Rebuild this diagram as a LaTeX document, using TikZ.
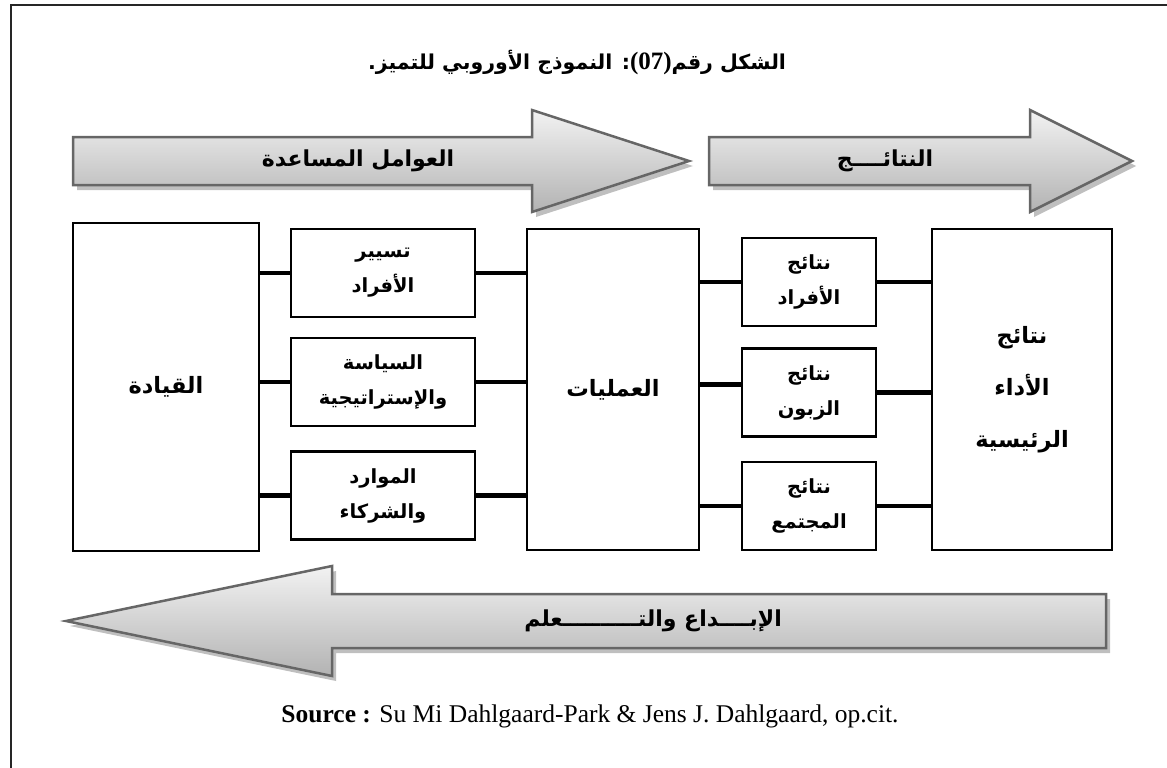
\documentclass[tikz,border=0pt]{standalone}
\usepackage{fontspec}
\setmainfont{Liberation Serif}
\newfontfamily\arabicfont[Script=Arabic]{DejaVu Sans}
\TeXXeTstate=1

\begin{document}
\begin{tikzpicture}[x=1pt,y=-1pt,
  frame/.style={line width=2pt, draw=black!85},
  band/.style={draw=black!60, line width=2.5pt, line join=miter,
               top color=black!5, bottom color=black!30},
  bandshadow/.style={fill=black!25},
  bandtext/.style={font=\arabicfont\bfseries\fontsize{22}{26}\selectfont},
  bigbox/.style={draw, line width=2.4pt, inner sep=0pt, align=center,
                 font=\arabicfont\bfseries\fontsize{22.5}{52}\selectfont},
  smallbox/.style={draw, line width=2.4pt, inner sep=0pt, align=center,
                   minimum height=88pt,
                   font=\arabicfont\bfseries\fontsize{19.5}{35}\selectfont},
  link/.style={line width=4.5pt}
]
\useasboundingbox (0,0) rectangle (1167,768);

% page frame (top and left edges)
\draw[frame] (11,768) -- (11,5) -- (1167,5);

% title
\node[font=\arabicfont\bfseries\fontsize{20.5}{24}\selectfont] (title) at (577,62)
  {\beginR الشكل رقم{\rmfamily\bfseries\fontsize{25}{26}\selectfont\beginL(07)\endL}: النموذج الأوروبي للتميز\kern0pt.\endR};

% enablers band
\fill[bandshadow, shift={(4,5)}] (73,137) -- (532,137) -- (532,110) -- (689,161)
  -- (532,212) -- (532,185) -- (73,185) -- cycle;
\draw[band] (73,137) -- (532,137) -- (532,110) -- (689,161)
  -- (532,212) -- (532,185) -- (73,185) -- cycle;
\node[bandtext] (enablers) at (358,161) {\beginR العوامل المساعدة\endR};

% results band
\fill[bandshadow, shift={(4,5)}] (709,137) -- (1030,137) -- (1030,110) -- (1132,161)
  -- (1030,212) -- (1030,185) -- (709,185) -- cycle;
\draw[band] (709,137) -- (1030,137) -- (1030,110) -- (1132,161)
  -- (1030,212) -- (1030,185) -- (709,185) -- cycle;
\node[bandtext] (results) at (885,161) {\beginR النتائــــج\endR};

% innovation and learning band
\fill[bandshadow, shift={(4,5)}] (1106,594) -- (332,594) -- (332,566) -- (66,621)
  -- (332,676) -- (332,648) -- (1106,648) -- cycle;
\draw[band] (1106,594) -- (332,594) -- (332,566) -- (66,621)
  -- (332,676) -- (332,648) -- (1106,648) -- cycle;
\node[bandtext] (learning) at (653,621) {\beginR الإبــــداع والتــــــــــعلم\endR};

% main criteria
\node[bigbox, minimum width=186pt, minimum height=328pt] (lead) at (166,387)
  {\beginR القيادة\endR};
\node[bigbox, minimum width=172pt, minimum height=321pt] (proc) at (613,389.5)
  {\beginR العمليات\endR};
\node[bigbox, minimum width=180pt, minimum height=321pt] (perf) at (1022,389.5)
  {\beginR نتائج\endR\\\beginR الأداء\endR\\\beginR الرئيسية\endR};

% enablers between leadership and processes
\node[smallbox, minimum width=184pt] (people) at (383,273)
  {\beginR تسيير\endR\\\beginR الأفراد\endR};
\node[smallbox, minimum width=184pt] (policy) at (383,382)
  {\beginR السياسة\endR\\\beginR والإستراتيجية\endR};
\node[smallbox, minimum width=184pt] (partners) at (383,495.5)
  {\beginR الموارد\endR\\\beginR والشركاء\endR};

% results between processes and key performance
\node[smallbox, minimum width=134pt] (pres) at (809,282)
  {\beginR نتائج\endR\\\beginR الأفراد\endR};
\node[smallbox, minimum width=134pt] (cres) at (809,392.5)
  {\beginR نتائج\endR\\\beginR الزبون\endR};
\node[smallbox, minimum width=134pt] (sres) at (809,506)
  {\beginR نتائج\endR\\\beginR المجتمع\endR};

% connectors
\foreach \b in {people,policy,partners}{
  \draw[link] (lead.east |- \b.west) -- (\b.west);
  \draw[link] (\b.east) -- (proc.west |- \b.east);
}
\draw[link] (proc.east |- pres.west) -- (pres.west);
\draw[link] ([yshift=8pt]proc.east |- cres.west) -- ([yshift=8pt]cres.west);
\draw[link] (proc.east |- sres.west) -- (sres.west);
\foreach \b in {pres,cres,sres}{
  \draw[link] (\b.east) -- (perf.west |- \b.east);
}

% source line
\node[font=\fontsize{25.5}{28}\selectfont] (src) at (590,716)
  {\textbf{Source :} Su Mi Dahlgaard-Park \& Jens J. Dahlgaard, op.cit.};
\end{tikzpicture}
\end{document}
